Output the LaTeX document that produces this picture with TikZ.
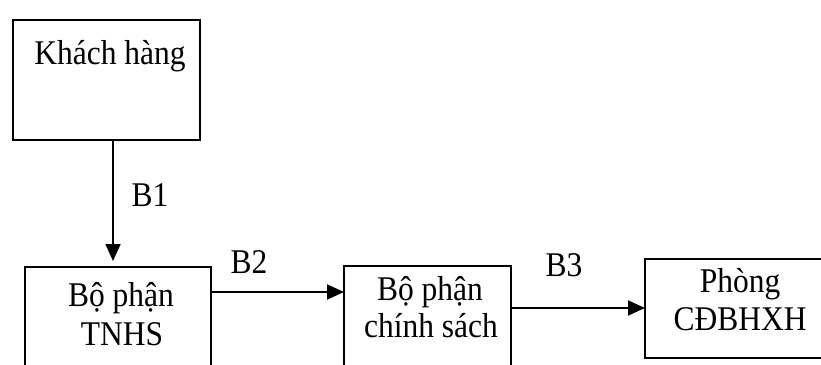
\documentclass[tikz,border=0pt]{standalone}
\usepackage{fontspec}
\setmainfont{Liberation Serif}
\usetikzlibrary{arrows.meta,calc}
\newcommand{\tallt}[1]{\scalebox{1}[1.1]{#1}}
\begin{document}
\begin{tikzpicture}[x=1pt,y=-1pt,
  box/.style={draw,line width=1.8pt,rectangle,inner sep=0pt,outer sep=0pt,anchor=north west},
  txt/.style={font=\fontsize{31.5}{34}\selectfont,inner sep=0pt},
  arr/.style={line width=1.8pt,-{Triangle[length=17pt,width=15pt]}}]
\useasboundingbox (0,0) rectangle (821,364);
% boxes
\node[box,minimum width=187pt,minimum height=120pt] (k) at (13,20) {};
\node[box,minimum width=186pt,minimum height=130pt] (t) at (25,267) {};
\node[box,minimum width=167pt,minimum height=130pt] (c) at (344,266) {};
\node[box,minimum width=200pt,minimum height=99pt] (p) at (645,259) {};
% texts
\node[txt] (kt) at (110,56) {\tallt{Khách hàng}};
\node[txt] (t1) at (121,298) {\tallt{Bộ phận}};
\node[txt] (t2) at (122,334) {\tallt{TNHS}};
\node[txt] (c1) at (430,292) {\tallt{Bộ phận}};
\node[txt] (c2) at (431,326) {\tallt{chính sách}};
\node[txt] (p1) at (740,284) {\tallt{Phòng}};
\node[txt] (p2) at (740,319) {\tallt{CĐBHXH}};
% connectors
\draw[arr,shorten >=6pt] ([xshift=6.5pt]k.south) -- ([xshift=6.5pt]k.south |- t.north);
\draw[arr] ([yshift=-25pt]t.north east) -- ([yshift=-25pt]t.north east -| c.west);
\draw[arr] ([yshift=-42pt]c.north east) -- ([yshift=-42pt]c.north east -| p.west);
% labels
\node[txt] (l1) at (150,195) {\tallt{B1}};
\node[txt] (l2) at (249,262) {\tallt{B2}};
\node[txt] (l3) at (564,265) {\tallt{B3}};
\end{tikzpicture}
\end{document}
